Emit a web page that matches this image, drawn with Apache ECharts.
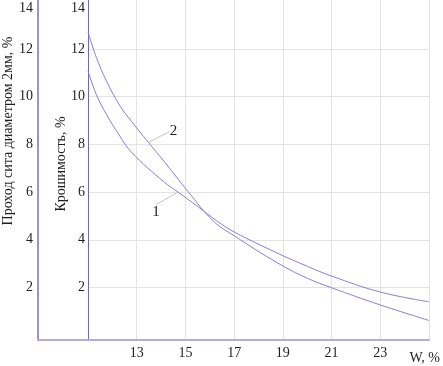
<!DOCTYPE html>
<html><head><meta charset="utf-8">
<script src="https://cdn.jsdelivr.net/npm/echarts@6/dist/echarts.min.js"></script>
<style>html,body{margin:0;padding:0;background:#fff}#c{width:443px;height:366px}</style>
</head><body><div id="c"></div>
<script>
// ---- data ----
const curve1W = [11.0, 11.34, 11.76, 12.18, 12.78, 14.15, 14.7, 15.5, 16.28, 17.0, 18.8, 20.0, 21.0, 23.0, 25.0];
const curve1V = [11.08, 10.09, 9.25, 8.55, 7.68, 6.4, 6.0, 5.4, 4.8, 4.33, 3.43, 2.89, 2.48, 1.81, 1.40];
const curve2W = [11.0, 11.34, 11.76, 12.32, 12.78, 13.48, 14.16, 15.11, 16.15, 17.0, 18.8, 20.0, 21.0, 23.0, 25.0];
const curve2V = [12.71, 11.65, 10.65, 9.6, 8.97, 8.08, 7.24, 6.02, 4.78, 4.17, 3.02, 2.39, 1.99, 1.27, 0.62];
const curveNames = ['1', '2'];
const curve1LabelIndex = 6;
const curve2LabelIndex = 5;
const xLabelValues = [13, 15, 17, 19, 21, 23];
const xGridValues = [13, 15, 17, 19, 21, 23, 25];
const yLabelValues = [2, 4, 6, 8, 10, 12, 14];
const yGridValues = [2, 4, 6, 8, 10, 12];
const xName = 'W, %';
const yInnerName = 'Крошимость, %';
const yOuterName = 'Проход сита диаметром 2мм, %';

// ---- chart ----
const FONT = 'Liberation Serif';
const TXT = '#1e1e1e';
const CURVE = '#837fdb';
const GRIDC = '#e3e3e3';

function pairs(ws, vs, labelIdx, text) {
  return ws.map((w, i) => {
    if (i === labelIdx) {
      return { value: [w, vs[i]], label: { show: true, formatter: text } };
    }
    return [w, vs[i]];
  });
}

function yLabelFormatter(v) {
  if (v === 14) return '{t|14}';
  return String(v);
}

const yMin = -0.2, yMax = 14.05;

const option = {
  animation: false,
  grid: [
    { left: 88, right: 8, top: 0, bottom: 26 },
    { left: 38, width: 50, top: 0, bottom: 26 }
  ],
  xAxis: [
    {
      gridIndex: 0, type: 'value', min: 11, max: 25,
      axisLine: { show: true, onZero: false, lineStyle: { color: '#b2ace6', width: 2 } },
      axisTick: { show: false, customValues: xGridValues },
      axisLabel: { customValues: xLabelValues, margin: 6, fontFamily: FONT, fontSize: 14, color: TXT },
      splitLine: { show: true, lineStyle: { color: GRIDC, width: 1 } },
      name: xName, nameLocation: 'end', nameGap: 11,
      nameTextStyle: { fontFamily: FONT, fontSize: 14, color: TXT, align: 'right', verticalAlign: 'top', padding: [11, 0, 0, 0] }
    },
    {
      gridIndex: 1, type: 'value', min: 0, max: 1,
      axisLine: { show: true, onZero: false, lineStyle: { color: '#b2ace6', width: 2 } },
      axisTick: { show: false }, axisLabel: { show: false }, splitLine: { show: false }
    }
  ],
  yAxis: [
    {
      gridIndex: 0, type: 'value', min: yMin, max: yMax, position: 'left',
      axisLine: { show: true, onZero: false, lineStyle: { color: '#6f67c2', width: 1 } },
      axisTick: { show: false, customValues: yGridValues },
      axisLabel: { customValues: yLabelValues, margin: 3, fontFamily: FONT, fontSize: 14, color: TXT,
        formatter: yLabelFormatter, rich: { t: { fontFamily: FONT, fontSize: 14, color: TXT, padding: [14, 0, 0, 0] } } },
      splitLine: { show: true, lineStyle: { color: GRIDC, width: 1 } },
      name: yInnerName, nameLocation: 'middle', nameGap: 20, nameRotate: 90, nameMoveOverlap: false,
      nameTextStyle: { fontFamily: FONT, fontSize: 14, color: TXT, padding: [0, 0, 0, 12] }
    },
    {
      gridIndex: 1, type: 'value', min: yMin, max: yMax, position: 'left',
      axisLine: { show: true, onZero: false, lineStyle: { color: '#9a93da', width: 2 } },
      axisTick: { show: false, customValues: yGridValues },
      axisLabel: { customValues: yLabelValues, margin: 5, fontFamily: FONT, fontSize: 14, color: TXT,
        formatter: yLabelFormatter, rich: { t: { fontFamily: FONT, fontSize: 14, color: TXT, padding: [14, 0, 0, 0] } } },
      splitLine: { show: false },
      name: yOuterName, nameLocation: 'middle', nameGap: 23, nameRotate: 90,
      nameTextStyle: { fontFamily: FONT, fontSize: 14, color: TXT, padding: [0, 0, 0, 78] }
    }
  ],
  series: [
    {
      name: curveNames[0], type: 'line', xAxisIndex: 0, yAxisIndex: 0,
      data: pairs(curve1W, curve1V, curve1LabelIndex, curveNames[0]),
      smooth: 0.4, symbol: 'circle', symbolSize: 1, showSymbol: true,
      itemStyle: { color: 'rgba(0,0,0,0)' },
      lineStyle: { color: CURVE, width: 1 },
      label: { show: false, position: 'inside', fontFamily: FONT, fontSize: 15, color: TXT },
      labelLayout: { dx: -22, dy: 20 },
      labelLine: { show: true, lineStyle: { color: '#c4c4c4', width: 1 } }
    },
    {
      name: curveNames[1], type: 'line', xAxisIndex: 0, yAxisIndex: 0,
      data: pairs(curve2W, curve2V, curve2LabelIndex, curveNames[1]),
      smooth: 0.4, symbol: 'circle', symbolSize: 1, showSymbol: true,
      itemStyle: { color: 'rgba(0,0,0,0)' },
      lineStyle: { color: CURVE, width: 1 },
      label: { show: false, position: 'inside', fontFamily: FONT, fontSize: 15, color: TXT },
      labelLayout: { dx: 25, dy: -11 },
      labelLine: { show: true, lineStyle: { color: '#c4c4c4', width: 1 } }
    }
  ]
};

const chart = echarts.init(document.getElementById('c'), null, { renderer: 'canvas' });
chart.setOption(option);
</script>
</body></html>
